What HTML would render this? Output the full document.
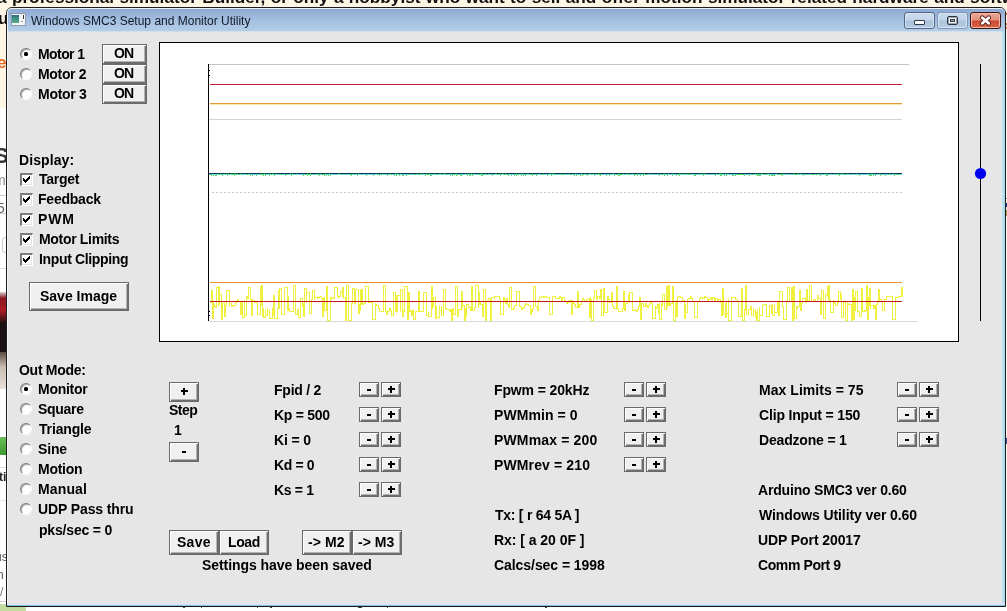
<!DOCTYPE html>
<html><head><meta charset="utf-8"><title>Windows SMC3 Setup and Monitor Utility</title><style>
*{margin:0;padding:0;box-sizing:border-box}
html,body{width:1007px;height:611px;overflow:hidden}
body{position:relative;background:#fdf6e4;font-family:"Liberation Sans",sans-serif;-webkit-font-smoothing:antialiased}
body>div{position:absolute}
.t{font:bold 14px/14px "Liberation Sans",sans-serif;color:#000;white-space:pre;will-change:transform}
.btn{background:#f0f0f0;border:1px solid #6a6a6a;box-shadow:inset 1px 1px 0 #fff,inset -1px -1px 0 #6e6e6e,inset -2px -2px 0 #b4b4b4}
.rad{width:12px;height:12px;border-radius:50%;background:#fdfdfd;border:1px solid;border-color:#7e7e7e #fafafa #fafafa #7e7e7e;box-shadow:inset 1px 1px 0 #a8a8a8}
.chk{width:13px;height:13px;background:#fff;border-style:solid;border-width:2px 1px 1px 2px;border-color:#7c7c7c #fff #fff #7c7c7c;box-shadow:inset -1px -1px 0 #e3e3e3}
</style></head><body>
<div style="left:-3.5px;top:-10.8px;font:bold 17.2px/17.2px 'Liberation Sans',sans-serif;color:#111;white-space:pre;word-spacing:0.6px;will-change:transform">a professional simulator Builder, or only a hobbyist who want to sell and offer motion simulator related hardware and software</div>
<div style="left:0px;top:108px;width:6px;height:500px;background:#fff"></div>
<div style="left:-2.5px;top:10px;font:bold 17px/17px 'Liberation Sans',sans-serif;color:#111;will-change:transform">u</div>
<div style="left:-3px;top:54px;font:bold 17px/17px 'Liberation Sans',sans-serif;color:#e8641e;will-change:transform">e</div>
<div style="left:-6px;top:145px;font:bold 22px/22px 'Liberation Sans',sans-serif;color:#333;will-change:transform">S</div>
<div style="left:-6px;top:173px;font:14px/14px 'Liberation Sans',sans-serif;color:#888;will-change:transform">m</div>
<div style="left:0px;top:195px;width:6px;height:1px;background:#ccc"></div>
<div style="left:-3px;top:201px;font:14px/14px 'Liberation Sans',sans-serif;color:#666;will-change:transform">5</div>
<div style="left:0px;top:213px;width:6px;height:1px;background:#ccc"></div>
<div style="left:2px;top:237px;width:6px;height:16px;border:1px solid #ccc;border-radius:3px"></div>
<div style="left:0px;top:268px;width:6px;height:1px;background:#ddd"></div>
<div style="left:0px;top:292px;width:6px;height:30px;background:linear-gradient(#d8d8d8,#8a1a20 20%,#b01c24 60%,#301010)"></div>
<div style="left:0px;top:322px;width:6px;height:30px;background:#1a1212"></div>
<div style="left:0px;top:352px;width:6px;height:37px;background:linear-gradient(#5a4a40,#c8bcb0 40%,#e8e2da)"></div>
<div style="left:0px;top:437px;width:6px;height:18px;background:linear-gradient(#6cc05a,#3a9a30)"></div>
<div style="left:0px;top:467px;width:6px;height:1px;background:#ddd"></div>
<div style="left:-1px;top:471px;font:bold 12px/12px 'Liberation Sans',sans-serif;color:#222;will-change:transform">ti</div>
<div style="left:0px;top:500px;width:6px;height:1px;background:#e4e4e4"></div>
<div style="left:-5px;top:551px;font:12px/12px 'Liberation Sans',sans-serif;color:#555;will-change:transform">us</div>
<div style="left:-3px;top:569px;font:12px/12px 'Liberation Sans',sans-serif;color:#555;will-change:transform">n</div>
<div style="left:0px;top:586px;font:12px/12px 'Liberation Sans',sans-serif;color:#777;will-change:transform">/</div>
<div style="left:0px;top:606px;width:1007px;height:5px;background:#fff"></div>
<div style="left:0px;top:604px;width:6px;height:2px;background:#c2dca0"></div>
<div style="left:0px;top:606px;width:26px;height:5px;background:#c2dca0"></div>
<div style="left:0px;top:601px;width:6px;height:1px;background:#d8d8d8"></div>
<div style="left:1006px;top:13px;width:1px;height:2px;background:#dc7a40"></div>
<div style="left:1006px;top:23px;width:1px;height:2px;background:#dc7a40"></div>
<div style="left:1006px;top:27px;width:1px;height:2px;background:#dc7a40"></div>
<div style="left:1006px;top:438px;width:1px;height:6px;background:#3a4a8a"></div>
<div style="left:1006px;top:198px;width:1px;height:1px;background:#999"></div>
<div style="left:1006px;top:203px;width:1px;height:4px;background:#2a3a8a"></div>
<div style="left:1006px;top:210px;width:1px;height:6px;background:#b09040"></div>
<div style="left:183px;top:607px;width:2px;height:1px;background:#444"></div>
<div style="left:201px;top:607px;width:1px;height:1px;background:#444"></div>
<div style="left:257px;top:607px;width:1px;height:1px;background:#444"></div>
<div style="left:270px;top:607px;width:2px;height:1px;background:#444"></div>
<div style="left:358px;top:607px;width:4px;height:1px;background:#444"></div>
<div style="left:387px;top:607px;width:1px;height:1px;background:#444"></div>
<div style="left:545px;top:607px;width:2px;height:1px;background:#444"></div>
<div style="left:6px;top:7px;width:1000px;height:600px;border:1px solid #1c1c1c;border-radius:6px 6px 0 0;background:#b3d3e8"></div>
<div style="left:7px;top:8px;width:998px;height:24px;border-radius:5px 5px 0 0;border-top:1px solid #eef2f8;border-left:1px solid #eef2f8;background:linear-gradient(#8ea9d1,#a3bddf 45%,#b4cfe7)"></div>
<div style="left:8px;top:31px;width:994px;height:1px;background:#d5deeb"></div>
<div style="left:7px;top:31px;width:1px;height:575px;background:#f4f6fa"></div>
<div style="left:1002px;top:31px;width:3px;height:575px;background:linear-gradient(90deg,#c8e6f2,#a6d6ea)"></div>
<div style="left:7px;top:603px;width:998px;height:2px;background:#dfe3f4"></div>
<div style="left:7px;top:605px;width:998px;height:1px;background:#7cc2da"></div>
<div style="left:8px;top:32px;width:994px;height:571px;background:#e6e6e6"></div>
<div style="left:11px;top:13px;width:15px;height:13px;background:#f6f6f6;border:1px solid #8a9ab0"></div>
<div style="left:12px;top:15px;width:7px;height:8px;background:linear-gradient(#2f6f86,#3f957a 50%,#5aa890)"></div>
<div style="left:21px;top:21px;width:2px;height:1px;background:#999"></div>
<div style="left:23px;top:15px;width:1px;height:4px;background:#333"></div>
<div style="left:31px;top:15px;font:12px/12px 'Liberation Sans',sans-serif;color:#101a28;white-space:pre;will-change:transform">Windows SMC3 Setup and Monitor Utility</div>
<div style="left:904px;top:12px;width:31px;height:17px;border:1px solid #4f6684;border-radius:3px;box-shadow:inset 0 0 0 1px #d8e4f2;background:linear-gradient(#cfdcee 0%,#c3d4ea 48%,#a9c0da 52%,#b5cbe3 100%)"></div>
<div style="left:914px;top:20px;width:11px;height:5px;border:1px solid #2e3a4a;border-radius:1px;background:#fbfbfb"></div>
<div style="left:937px;top:12px;width:31px;height:17px;border:1px solid #7c96b6;border-radius:3px;box-shadow:inset 0 0 0 1px #d8e4f2;background:linear-gradient(#c9d9ec 0%,#c0d2e8 48%,#abc3dc 52%,#b7cde4 100%)"></div>
<div style="left:947px;top:16px;width:11px;height:9px;border:1px solid #2a3440;border-radius:2px;box-shadow:inset 0 0 0 1px #9aa4b0;background:#f6f6f6"></div>
<div style="left:950px;top:19px;width:5px;height:3px;border:1px solid #323c48;background:#aab"></div>
<div style="left:970px;top:12px;width:31px;height:17px;border:1px solid #3c1410;border-radius:3px;box-shadow:inset 0 0 0 1px #f2b8a8;background:linear-gradient(#eaa896 0%,#e2907c 48%,#cc4a30 52%,#d66446 100%)"></div>
<svg style="position:absolute;left:979px;top:15px" width="13" height="11" viewBox="0 0 13 11"><path d="M3.3 2.7 L9.7 8.3 M9.7 2.7 L3.3 8.3" stroke="#5a2018" stroke-width="4.6" stroke-linecap="round"/><path d="M3.3 2.7 L9.7 8.3 M9.7 2.7 L3.3 8.3" stroke="#fff" stroke-width="2.8" stroke-linecap="round"/></svg>
<svg style="position:absolute;left:0;top:0" width="1007" height="611" shape-rendering="crispEdges">
<rect x="159.5" y="42.5" width="799" height="299" fill="#fff" stroke="#000" stroke-width="1"/>
<rect x="980" y="64" width="1" height="257" fill="#000"/>
<circle cx="980.5" cy="173.5" r="5.6" fill="#0000f0" shape-rendering="auto"/>
<rect x="209" y="64" width="700" height="1" fill="#c4c4c4"/>
<rect x="209" y="119" width="693" height="1" fill="#d4d4d4"/>
<rect x="209" y="321" width="709" height="1" fill="#d8d8d8"/>
<rect x="212" y="192" width="2" height="1" fill="#c8c8c8"/>
<rect x="216" y="192" width="2" height="1" fill="#c8c8c8"/>
<rect x="220" y="192" width="2" height="1" fill="#c8c8c8"/>
<rect x="224" y="192" width="2" height="1" fill="#c8c8c8"/>
<rect x="228" y="192" width="2" height="1" fill="#c8c8c8"/>
<rect x="232" y="192" width="2" height="1" fill="#c8c8c8"/>
<rect x="236" y="192" width="2" height="1" fill="#c8c8c8"/>
<rect x="240" y="192" width="2" height="1" fill="#c8c8c8"/>
<rect x="244" y="192" width="2" height="1" fill="#c8c8c8"/>
<rect x="248" y="192" width="2" height="1" fill="#c8c8c8"/>
<rect x="252" y="192" width="2" height="1" fill="#c8c8c8"/>
<rect x="256" y="192" width="2" height="1" fill="#c8c8c8"/>
<rect x="260" y="192" width="2" height="1" fill="#c8c8c8"/>
<rect x="264" y="192" width="2" height="1" fill="#c8c8c8"/>
<rect x="268" y="192" width="2" height="1" fill="#c8c8c8"/>
<rect x="272" y="192" width="2" height="1" fill="#c8c8c8"/>
<rect x="276" y="192" width="2" height="1" fill="#c8c8c8"/>
<rect x="280" y="192" width="2" height="1" fill="#c8c8c8"/>
<rect x="284" y="192" width="2" height="1" fill="#c8c8c8"/>
<rect x="288" y="192" width="2" height="1" fill="#c8c8c8"/>
<rect x="292" y="192" width="2" height="1" fill="#c8c8c8"/>
<rect x="296" y="192" width="2" height="1" fill="#c8c8c8"/>
<rect x="300" y="192" width="2" height="1" fill="#c8c8c8"/>
<rect x="304" y="192" width="2" height="1" fill="#c8c8c8"/>
<rect x="308" y="192" width="2" height="1" fill="#c8c8c8"/>
<rect x="312" y="192" width="2" height="1" fill="#c8c8c8"/>
<rect x="316" y="192" width="2" height="1" fill="#c8c8c8"/>
<rect x="320" y="192" width="2" height="1" fill="#c8c8c8"/>
<rect x="324" y="192" width="2" height="1" fill="#c8c8c8"/>
<rect x="328" y="192" width="2" height="1" fill="#c8c8c8"/>
<rect x="332" y="192" width="2" height="1" fill="#c8c8c8"/>
<rect x="336" y="192" width="2" height="1" fill="#c8c8c8"/>
<rect x="340" y="192" width="2" height="1" fill="#c8c8c8"/>
<rect x="344" y="192" width="2" height="1" fill="#c8c8c8"/>
<rect x="348" y="192" width="2" height="1" fill="#c8c8c8"/>
<rect x="352" y="192" width="2" height="1" fill="#c8c8c8"/>
<rect x="356" y="192" width="2" height="1" fill="#c8c8c8"/>
<rect x="360" y="192" width="2" height="1" fill="#c8c8c8"/>
<rect x="364" y="192" width="2" height="1" fill="#c8c8c8"/>
<rect x="368" y="192" width="2" height="1" fill="#c8c8c8"/>
<rect x="372" y="192" width="2" height="1" fill="#c8c8c8"/>
<rect x="376" y="192" width="2" height="1" fill="#c8c8c8"/>
<rect x="380" y="192" width="2" height="1" fill="#c8c8c8"/>
<rect x="384" y="192" width="2" height="1" fill="#c8c8c8"/>
<rect x="388" y="192" width="2" height="1" fill="#c8c8c8"/>
<rect x="392" y="192" width="2" height="1" fill="#c8c8c8"/>
<rect x="396" y="192" width="2" height="1" fill="#c8c8c8"/>
<rect x="400" y="192" width="2" height="1" fill="#c8c8c8"/>
<rect x="404" y="192" width="2" height="1" fill="#c8c8c8"/>
<rect x="408" y="192" width="2" height="1" fill="#c8c8c8"/>
<rect x="412" y="192" width="2" height="1" fill="#c8c8c8"/>
<rect x="416" y="192" width="2" height="1" fill="#c8c8c8"/>
<rect x="420" y="192" width="2" height="1" fill="#c8c8c8"/>
<rect x="424" y="192" width="2" height="1" fill="#c8c8c8"/>
<rect x="428" y="192" width="2" height="1" fill="#c8c8c8"/>
<rect x="432" y="192" width="2" height="1" fill="#c8c8c8"/>
<rect x="436" y="192" width="2" height="1" fill="#c8c8c8"/>
<rect x="440" y="192" width="2" height="1" fill="#c8c8c8"/>
<rect x="444" y="192" width="2" height="1" fill="#c8c8c8"/>
<rect x="448" y="192" width="2" height="1" fill="#c8c8c8"/>
<rect x="452" y="192" width="2" height="1" fill="#c8c8c8"/>
<rect x="456" y="192" width="2" height="1" fill="#c8c8c8"/>
<rect x="460" y="192" width="2" height="1" fill="#c8c8c8"/>
<rect x="464" y="192" width="2" height="1" fill="#c8c8c8"/>
<rect x="468" y="192" width="2" height="1" fill="#c8c8c8"/>
<rect x="472" y="192" width="2" height="1" fill="#c8c8c8"/>
<rect x="476" y="192" width="2" height="1" fill="#c8c8c8"/>
<rect x="480" y="192" width="2" height="1" fill="#c8c8c8"/>
<rect x="484" y="192" width="2" height="1" fill="#c8c8c8"/>
<rect x="488" y="192" width="2" height="1" fill="#c8c8c8"/>
<rect x="492" y="192" width="2" height="1" fill="#c8c8c8"/>
<rect x="496" y="192" width="2" height="1" fill="#c8c8c8"/>
<rect x="500" y="192" width="2" height="1" fill="#c8c8c8"/>
<rect x="504" y="192" width="2" height="1" fill="#c8c8c8"/>
<rect x="508" y="192" width="2" height="1" fill="#c8c8c8"/>
<rect x="512" y="192" width="2" height="1" fill="#c8c8c8"/>
<rect x="516" y="192" width="2" height="1" fill="#c8c8c8"/>
<rect x="520" y="192" width="2" height="1" fill="#c8c8c8"/>
<rect x="524" y="192" width="2" height="1" fill="#c8c8c8"/>
<rect x="528" y="192" width="2" height="1" fill="#c8c8c8"/>
<rect x="532" y="192" width="2" height="1" fill="#c8c8c8"/>
<rect x="536" y="192" width="2" height="1" fill="#c8c8c8"/>
<rect x="540" y="192" width="2" height="1" fill="#c8c8c8"/>
<rect x="544" y="192" width="2" height="1" fill="#c8c8c8"/>
<rect x="548" y="192" width="2" height="1" fill="#c8c8c8"/>
<rect x="552" y="192" width="2" height="1" fill="#c8c8c8"/>
<rect x="556" y="192" width="2" height="1" fill="#c8c8c8"/>
<rect x="560" y="192" width="2" height="1" fill="#c8c8c8"/>
<rect x="564" y="192" width="2" height="1" fill="#c8c8c8"/>
<rect x="568" y="192" width="2" height="1" fill="#c8c8c8"/>
<rect x="572" y="192" width="2" height="1" fill="#c8c8c8"/>
<rect x="576" y="192" width="2" height="1" fill="#c8c8c8"/>
<rect x="580" y="192" width="2" height="1" fill="#c8c8c8"/>
<rect x="584" y="192" width="2" height="1" fill="#c8c8c8"/>
<rect x="588" y="192" width="2" height="1" fill="#c8c8c8"/>
<rect x="592" y="192" width="2" height="1" fill="#c8c8c8"/>
<rect x="596" y="192" width="2" height="1" fill="#c8c8c8"/>
<rect x="600" y="192" width="2" height="1" fill="#c8c8c8"/>
<rect x="604" y="192" width="2" height="1" fill="#c8c8c8"/>
<rect x="608" y="192" width="2" height="1" fill="#c8c8c8"/>
<rect x="612" y="192" width="2" height="1" fill="#c8c8c8"/>
<rect x="616" y="192" width="2" height="1" fill="#c8c8c8"/>
<rect x="620" y="192" width="2" height="1" fill="#c8c8c8"/>
<rect x="624" y="192" width="2" height="1" fill="#c8c8c8"/>
<rect x="628" y="192" width="2" height="1" fill="#c8c8c8"/>
<rect x="632" y="192" width="2" height="1" fill="#c8c8c8"/>
<rect x="636" y="192" width="2" height="1" fill="#c8c8c8"/>
<rect x="640" y="192" width="2" height="1" fill="#c8c8c8"/>
<rect x="644" y="192" width="2" height="1" fill="#c8c8c8"/>
<rect x="648" y="192" width="2" height="1" fill="#c8c8c8"/>
<rect x="652" y="192" width="2" height="1" fill="#c8c8c8"/>
<rect x="656" y="192" width="2" height="1" fill="#c8c8c8"/>
<rect x="660" y="192" width="2" height="1" fill="#c8c8c8"/>
<rect x="664" y="192" width="2" height="1" fill="#c8c8c8"/>
<rect x="668" y="192" width="2" height="1" fill="#c8c8c8"/>
<rect x="672" y="192" width="2" height="1" fill="#c8c8c8"/>
<rect x="676" y="192" width="2" height="1" fill="#c8c8c8"/>
<rect x="680" y="192" width="2" height="1" fill="#c8c8c8"/>
<rect x="684" y="192" width="2" height="1" fill="#c8c8c8"/>
<rect x="688" y="192" width="2" height="1" fill="#c8c8c8"/>
<rect x="692" y="192" width="2" height="1" fill="#c8c8c8"/>
<rect x="696" y="192" width="2" height="1" fill="#c8c8c8"/>
<rect x="700" y="192" width="2" height="1" fill="#c8c8c8"/>
<rect x="704" y="192" width="2" height="1" fill="#c8c8c8"/>
<rect x="708" y="192" width="2" height="1" fill="#c8c8c8"/>
<rect x="712" y="192" width="2" height="1" fill="#c8c8c8"/>
<rect x="716" y="192" width="2" height="1" fill="#c8c8c8"/>
<rect x="720" y="192" width="2" height="1" fill="#c8c8c8"/>
<rect x="724" y="192" width="2" height="1" fill="#c8c8c8"/>
<rect x="728" y="192" width="2" height="1" fill="#c8c8c8"/>
<rect x="732" y="192" width="2" height="1" fill="#c8c8c8"/>
<rect x="736" y="192" width="2" height="1" fill="#c8c8c8"/>
<rect x="740" y="192" width="2" height="1" fill="#c8c8c8"/>
<rect x="744" y="192" width="2" height="1" fill="#c8c8c8"/>
<rect x="748" y="192" width="2" height="1" fill="#c8c8c8"/>
<rect x="752" y="192" width="2" height="1" fill="#c8c8c8"/>
<rect x="756" y="192" width="2" height="1" fill="#c8c8c8"/>
<rect x="760" y="192" width="2" height="1" fill="#c8c8c8"/>
<rect x="764" y="192" width="2" height="1" fill="#c8c8c8"/>
<rect x="768" y="192" width="2" height="1" fill="#c8c8c8"/>
<rect x="772" y="192" width="2" height="1" fill="#c8c8c8"/>
<rect x="776" y="192" width="2" height="1" fill="#c8c8c8"/>
<rect x="780" y="192" width="2" height="1" fill="#c8c8c8"/>
<rect x="784" y="192" width="2" height="1" fill="#c8c8c8"/>
<rect x="788" y="192" width="2" height="1" fill="#c8c8c8"/>
<rect x="792" y="192" width="2" height="1" fill="#c8c8c8"/>
<rect x="796" y="192" width="2" height="1" fill="#c8c8c8"/>
<rect x="800" y="192" width="2" height="1" fill="#c8c8c8"/>
<rect x="804" y="192" width="2" height="1" fill="#c8c8c8"/>
<rect x="808" y="192" width="2" height="1" fill="#c8c8c8"/>
<rect x="812" y="192" width="2" height="1" fill="#c8c8c8"/>
<rect x="816" y="192" width="2" height="1" fill="#c8c8c8"/>
<rect x="820" y="192" width="2" height="1" fill="#c8c8c8"/>
<rect x="824" y="192" width="2" height="1" fill="#c8c8c8"/>
<rect x="828" y="192" width="2" height="1" fill="#c8c8c8"/>
<rect x="832" y="192" width="2" height="1" fill="#c8c8c8"/>
<rect x="836" y="192" width="2" height="1" fill="#c8c8c8"/>
<rect x="840" y="192" width="2" height="1" fill="#c8c8c8"/>
<rect x="844" y="192" width="2" height="1" fill="#c8c8c8"/>
<rect x="848" y="192" width="2" height="1" fill="#c8c8c8"/>
<rect x="852" y="192" width="2" height="1" fill="#c8c8c8"/>
<rect x="856" y="192" width="2" height="1" fill="#c8c8c8"/>
<rect x="860" y="192" width="2" height="1" fill="#c8c8c8"/>
<rect x="864" y="192" width="2" height="1" fill="#c8c8c8"/>
<rect x="868" y="192" width="2" height="1" fill="#c8c8c8"/>
<rect x="872" y="192" width="2" height="1" fill="#c8c8c8"/>
<rect x="876" y="192" width="2" height="1" fill="#c8c8c8"/>
<rect x="880" y="192" width="2" height="1" fill="#c8c8c8"/>
<rect x="884" y="192" width="2" height="1" fill="#c8c8c8"/>
<rect x="888" y="192" width="2" height="1" fill="#c8c8c8"/>
<rect x="892" y="192" width="2" height="1" fill="#c8c8c8"/>
<rect x="896" y="192" width="2" height="1" fill="#c8c8c8"/>
<rect x="900" y="192" width="2" height="1" fill="#c8c8c8"/>
<rect x="210" y="84" width="692" height="1" fill="#c8202c"/>
<rect x="210" y="103" width="692" height="1" fill="#e49a3c"/>
<rect x="210" y="104" width="692" height="1" fill="#fbe7b0"/>
<path d="M210 303V302.5H211V290.5H212V304.5V318.5H213V301.5V304.5H214V306.5H215V307.5H216V287.5H218V305.5V286.5H219V304.5V294.5H221V301.5V319.5H222V303.5V301.5H224V316.5H225V304.5V305.5H226V290.5H229V306.5V303.5H231V306.5H232V305.5H234V305.5H235V302.5H236V302.5H237V299.5H238V301.5H240V314.5H241V304.5V302.5H242V317.5H244V299.5V315.5H246V296.5V296.5H247V298.5H248V287.5H250V296.5V299.5H251V315.5H252V298.5V300.5H254V302.5H255V302.5H257V314.5H260V305.5V286.5H261V305.5V285.5H262V306.5V316.5H263V307.5V317.5H265V308.5V315.5H267V307.5V310.5H269V318.5H272V307.5V315.5H273V310.5V295.5H274V311.5V318.5H277V311.5V308.5H278V290.5H279V308.5V288.5H281V305.5V314.5H284V307.5V287.5H287V310.5V296.5H288V310.5V308.5H289V311.5H291V311.5H292V311.5H293V285.5H295V311.5V314.5H297V311.5V309.5H298V317.5H300V308.5V298.5H302V306.5V303.5H303V316.5H304V301.5V288.5H306V302.5V292.5H309V302.5V313.5H311V301.5V299.5H312V290.5H314V299.5V297.5H317V296.5V298.5H318V297.5H319V296.5H320V296.5H321V298.5H322V316.5H323V300.5V297.5H324V310.5H326V296.5V286.5H327V297.5V320.5H330V296.5V299.5H331V297.5H333V298.5H334V287.5H337V296.5V296.5H338V297.5H339V296.5H340V291.5H342V296.5V287.5H343V298.5V297.5H345V320.5H346V300.5V285.5H348V303.5V320.5H351V303.5V303.5H352V288.5H354V304.5V303.5H355V289.5H358V300.5V313.5H359V303.5V310.5H360V303.5V289.5H361V304.5V289.5H362V303.5V304.5H363V303.5H364V303.5H365V286.5H368V300.5V302.5H370V302.5H372V319.5H375V302.5V304.5H376V305.5H378V308.5H379V311.5H381V311.5H383V285.5H385V309.5V311.5H386V314.5H387V311.5V311.5H389V308.5H390V310.5H391V315.5H393V311.5V292.5H395V311.5V311.5H396V295.5H397V311.5V295.5H400V311.5V289.5H402V311.5V316.5H403V309.5V311.5H404V286.5H407V310.5V319.5H408V311.5V292.5H409V311.5V311.5H410V310.5H411V315.5H412V309.5V310.5H413V311.5V319.5H415V310.5V311.5H418V311.5V291.5H419V309.5V311.5H420V311.5H421V311.5H423V292.5H426V308.5V315.5H428V311.5V316.5H431V310.5V286.5H432V308.5V306.5H433V297.5H435V307.5V318.5H436V305.5V317.5H439V304.5V310.5H441V305.5V315.5H443V304.5V289.5H445V306.5V308.5H446V309.5H447V309.5H449V311.5H450V309.5H451V320.5H452V307.5V308.5H453V314.5H455V311.5V286.5H457V311.5V316.5H458V310.5V309.5H459V309.5H461V291.5H462V307.5V305.5H464V320.5H465V307.5V316.5H466V307.5V304.5H468V307.5H469V307.5H470V310.5H471V286.5H472V310.5V310.5H474V307.5H475V285.5H478V307.5V292.5H479V304.5V302.5H480V304.5H482V316.5H483V304.5V289.5H485V301.5V320.5H486V304.5V301.5H487V300.5H488V298.5H490V320.5H491V298.5V297.5H494V298.5V296.5H495V296.5H497V296.5H499V298.5H500V314.5H503V297.5V297.5H504V300.5H505V303.5H506V298.5H507V301.5V304.5H508V307.5H509V287.5H511V308.5V309.5H512V309.5H513V308.5H514V305.5H516V291.5H519V305.5V306.5H521V309.5H522V308.5H523V307.5H524V305.5H525V303.5H526V304.5H527V304.5H528V305.5H530V314.5H531V308.5V311.5H532V308.5H533V286.5H535V305.5V306.5H537V310.5H538V303.5V300.5H539V297.5H541V296.5H542V296.5H543V297.5H544V296.5H546V297.5H549V296.5V314.5H552V297.5V296.5H553V296.5H554V296.5H555V298.5H557V298.5H558V298.5H559V296.5H560V297.5H561V300.5H562V297.5H564V300.5H565V301.5H566V303.5H567V302.5H569V300.5H570V300.5H571V314.5H572V299.5V301.5H573V303.5H574V304.5H575V307.5H577V291.5H578V305.5V307.5H579V304.5H581V301.5H582V298.5H583V299.5H584V301.5H586V299.5H588V298.5H589V317.5H590V296.5V299.5H591V320.5H593V296.5V297.5H594V290.5H596V299.5V299.5H597V296.5H599V298.5H600V289.5H601V296.5V315.5H603V299.5V288.5H604V297.5V312.5H607V296.5V296.5H608V299.5H609V302.5H611V292.5H612V305.5V306.5H613V308.5H614V308.5H616V286.5H617V306.5V309.5H618V311.5H620V311.5H622V308.5H623V291.5H624V306.5V310.5H625V306.5V303.5H627V301.5H628V294.5H629V302.5V292.5H632V305.5V310.5H634V308.5V310.5H636V311.5H637V309.5H638V306.5H639V297.5H640V304.5V319.5H641V304.5V303.5H643V306.5H645V303.5H646V305.5H647V307.5H648V305.5H649V303.5H650V302.5H652V318.5H655V305.5V308.5H656V307.5H657V304.5H658V313.5H659V302.5V319.5H661V302.5V305.5H662V294.5H664V308.5V309.5H666V286.5H667V307.5V305.5H668V285.5H669V302.5V305.5H670V303.5H672V286.5H673V305.5V320.5H675V302.5V316.5H676V299.5V316.5H677V296.5V297.5H678V296.5H679V296.5H680V297.5H682V300.5H684V318.5H685V303.5V312.5H687V300.5V299.5H688V298.5H690V296.5H691V298.5H692V301.5H694V317.5H697V304.5V301.5H699V298.5H700V297.5H702V298.5H704V296.5H705V297.5H707V300.5H708V299.5H710V297.5H711V299.5H712V297.5H714V300.5H715V298.5H717V300.5H718V299.5H720V302.5H721V315.5H722V304.5V288.5H723V302.5V314.5H725V302.5V317.5H726V301.5V313.5H728V298.5V320.5H731V296.5V297.5H733V297.5H735V299.5H737V301.5H738V316.5H741V303.5V288.5H742V305.5V320.5H744V308.5V310.5H745V285.5H746V311.5V314.5H748V311.5V309.5H750V306.5H751V315.5H753V307.5V310.5H755V317.5H756V311.5V320.5H757V308.5V320.5H759V306.5V315.5H762V304.5V305.5H763V304.5H764V304.5H766V316.5H769V306.5V305.5H771V313.5H772V303.5V315.5H774V303.5V312.5H777V300.5V311.5H778V301.5V315.5H779V302.5V291.5H782V305.5V306.5H783V319.5H786V304.5V301.5H787V287.5H789V301.5V301.5H791V287.5H792V301.5V320.5H793V304.5V286.5H794V304.5V318.5H796V305.5V308.5H797V306.5H799V290.5H800V304.5V310.5H801V304.5V303.5H802V298.5H805V302.5V302.5H806V289.5H807V300.5V300.5H808V301.5H809V285.5H811V300.5V301.5H813V299.5H815V301.5H817V295.5H818V298.5V298.5H820V314.5H821V296.5V290.5H823V296.5V318.5H825V297.5V294.5H827V296.5V286.5H828V299.5V285.5H829V301.5V299.5H830V312.5H833V299.5V301.5H834V303.5H835V305.5H836V305.5H837V302.5H838V291.5H840V299.5V294.5H841V300.5V317.5H843V303.5V302.5H845V320.5H847V301.5V303.5H848V304.5H850V304.5H851V320.5H852V304.5V289.5H853V306.5V319.5H854V309.5V297.5H855V310.5V291.5H857V311.5V311.5H859V316.5H861V311.5V288.5H862V310.5V311.5H863V311.5H864V310.5H865V311.5V310.5H866V285.5H867V308.5V319.5H868V305.5V297.5H869V305.5V288.5H870V308.5V305.5H872V305.5H873V308.5H874V305.5H875V319.5H876V304.5V304.5H877V302.5H878V289.5H879V300.5V299.5H881V301.5H882V310.5H884V298.5V299.5H886V296.5H887V296.5H888V296.5H889V296.5H891V296.5H892V319.5H895V299.5V297.5H896V297.5H898V296.5H899V296.5H900V296.5H901V287.5H902V296.5" fill="none" stroke="#f0f040" stroke-width="1" shape-rendering="crispEdges" transform="translate(0.5,0)"/>
<rect x="210" y="282" width="692" height="1" fill="#e8902c"/>
<rect x="210" y="301" width="692" height="1" fill="#c8141c"/>
<rect x="209" y="173" width="693" height="1" fill="#10306a"/>
<rect x="209" y="174" width="693" height="1" fill="#6cdccc"/>
<rect x="210" y="174" width="1" height="1" fill="#38d838"/>
<rect x="211" y="175" width="1" height="1" fill="#5ad25a"/>
<rect x="213" y="175" width="1" height="1" fill="#5ad25a"/>
<rect x="215" y="175" width="1" height="1" fill="#5ad25a"/>
<rect x="216" y="175" width="1" height="1" fill="#5ad25a"/>
<rect x="218" y="173" width="1" height="1" fill="#1a7a3a"/>
<rect x="219" y="174" width="1" height="1" fill="#38d838"/>
<rect x="220" y="173" width="1" height="1" fill="#1a7a3a"/>
<rect x="222" y="175" width="1" height="1" fill="#5ad25a"/>
<rect x="224" y="173" width="1" height="1" fill="#1a7a3a"/>
<rect x="226" y="173" width="1" height="1" fill="#1a7a3a"/>
<rect x="227" y="175" width="1" height="1" fill="#5ad25a"/>
<rect x="228" y="173" width="1" height="1" fill="#1a7a3a"/>
<rect x="229" y="174" width="1" height="1" fill="#38d838"/>
<rect x="231" y="173" width="1" height="1" fill="#1a7a3a"/>
<rect x="232" y="173" width="1" height="1" fill="#1a7a3a"/>
<rect x="232" y="174" width="1" height="1" fill="#38d838"/>
<rect x="234" y="173" width="1" height="1" fill="#1a7a3a"/>
<rect x="234" y="175" width="1" height="1" fill="#5ad25a"/>
<rect x="235" y="173" width="1" height="1" fill="#1a7a3a"/>
<rect x="236" y="174" width="1" height="1" fill="#38d838"/>
<rect x="237" y="173" width="1" height="1" fill="#1a7a3a"/>
<rect x="239" y="174" width="1" height="1" fill="#38d838"/>
<rect x="240" y="173" width="1" height="1" fill="#1a7a3a"/>
<rect x="242" y="173" width="1" height="1" fill="#1a7a3a"/>
<rect x="245" y="173" width="1" height="1" fill="#1a7a3a"/>
<rect x="247" y="174" width="1" height="1" fill="#38d838"/>
<rect x="249" y="173" width="1" height="1" fill="#1a7a3a"/>
<rect x="250" y="175" width="1" height="1" fill="#5ad25a"/>
<rect x="252" y="175" width="1" height="1" fill="#5ad25a"/>
<rect x="256" y="175" width="1" height="1" fill="#5ad25a"/>
<rect x="260" y="173" width="1" height="1" fill="#1a7a3a"/>
<rect x="261" y="173" width="1" height="1" fill="#1a7a3a"/>
<rect x="261" y="174" width="1" height="1" fill="#38d838"/>
<rect x="262" y="173" width="1" height="1" fill="#1a7a3a"/>
<rect x="262" y="174" width="1" height="1" fill="#38d838"/>
<rect x="263" y="175" width="1" height="1" fill="#5ad25a"/>
<rect x="264" y="173" width="1" height="1" fill="#1a7a3a"/>
<rect x="265" y="173" width="1" height="1" fill="#1a7a3a"/>
<rect x="265" y="175" width="1" height="1" fill="#5ad25a"/>
<rect x="268" y="173" width="1" height="1" fill="#1a7a3a"/>
<rect x="269" y="175" width="1" height="1" fill="#5ad25a"/>
<rect x="270" y="173" width="1" height="1" fill="#1a7a3a"/>
<rect x="271" y="174" width="1" height="1" fill="#38d838"/>
<rect x="272" y="173" width="1" height="1" fill="#1a7a3a"/>
<rect x="273" y="173" width="1" height="1" fill="#1a7a3a"/>
<rect x="274" y="175" width="1" height="1" fill="#5ad25a"/>
<rect x="276" y="173" width="1" height="1" fill="#1a7a3a"/>
<rect x="281" y="174" width="1" height="1" fill="#38d838"/>
<rect x="285" y="175" width="1" height="1" fill="#5ad25a"/>
<rect x="287" y="174" width="1" height="1" fill="#38d838"/>
<rect x="290" y="173" width="1" height="1" fill="#1a7a3a"/>
<rect x="291" y="175" width="1" height="1" fill="#5ad25a"/>
<rect x="292" y="173" width="1" height="1" fill="#1a7a3a"/>
<rect x="296" y="173" width="1" height="1" fill="#1a7a3a"/>
<rect x="303" y="175" width="1" height="1" fill="#5ad25a"/>
<rect x="305" y="174" width="1" height="1" fill="#38d838"/>
<rect x="307" y="173" width="1" height="1" fill="#1a7a3a"/>
<rect x="307" y="175" width="1" height="1" fill="#5ad25a"/>
<rect x="308" y="173" width="1" height="1" fill="#1a7a3a"/>
<rect x="308" y="174" width="1" height="1" fill="#38d838"/>
<rect x="309" y="174" width="1" height="1" fill="#38d838"/>
<rect x="310" y="173" width="1" height="1" fill="#1a7a3a"/>
<rect x="310" y="175" width="1" height="1" fill="#5ad25a"/>
<rect x="313" y="174" width="1" height="1" fill="#38d838"/>
<rect x="317" y="173" width="1" height="1" fill="#1a7a3a"/>
<rect x="317" y="174" width="1" height="1" fill="#38d838"/>
<rect x="319" y="175" width="1" height="1" fill="#5ad25a"/>
<rect x="321" y="173" width="1" height="1" fill="#1a7a3a"/>
<rect x="322" y="174" width="1" height="1" fill="#38d838"/>
<rect x="323" y="174" width="1" height="1" fill="#38d838"/>
<rect x="324" y="175" width="1" height="1" fill="#5ad25a"/>
<rect x="325" y="173" width="1" height="1" fill="#1a7a3a"/>
<rect x="326" y="175" width="1" height="1" fill="#5ad25a"/>
<rect x="328" y="175" width="1" height="1" fill="#5ad25a"/>
<rect x="329" y="173" width="1" height="1" fill="#1a7a3a"/>
<rect x="330" y="175" width="1" height="1" fill="#5ad25a"/>
<rect x="338" y="173" width="1" height="1" fill="#1a7a3a"/>
<rect x="339" y="173" width="1" height="1" fill="#1a7a3a"/>
<rect x="350" y="174" width="1" height="1" fill="#38d838"/>
<rect x="351" y="175" width="1" height="1" fill="#5ad25a"/>
<rect x="353" y="173" width="1" height="1" fill="#1a7a3a"/>
<rect x="356" y="173" width="1" height="1" fill="#1a7a3a"/>
<rect x="357" y="175" width="1" height="1" fill="#5ad25a"/>
<rect x="358" y="173" width="1" height="1" fill="#1a7a3a"/>
<rect x="366" y="175" width="1" height="1" fill="#5ad25a"/>
<rect x="373" y="175" width="1" height="1" fill="#5ad25a"/>
<rect x="376" y="173" width="1" height="1" fill="#1a7a3a"/>
<rect x="379" y="175" width="1" height="1" fill="#5ad25a"/>
<rect x="381" y="174" width="1" height="1" fill="#38d838"/>
<rect x="382" y="173" width="1" height="1" fill="#1a7a3a"/>
<rect x="385" y="173" width="1" height="1" fill="#1a7a3a"/>
<rect x="387" y="175" width="1" height="1" fill="#5ad25a"/>
<rect x="390" y="173" width="1" height="1" fill="#1a7a3a"/>
<rect x="391" y="174" width="1" height="1" fill="#38d838"/>
<rect x="394" y="175" width="1" height="1" fill="#5ad25a"/>
<rect x="395" y="173" width="1" height="1" fill="#1a7a3a"/>
<rect x="396" y="173" width="1" height="1" fill="#1a7a3a"/>
<rect x="396" y="175" width="1" height="1" fill="#5ad25a"/>
<rect x="397" y="173" width="1" height="1" fill="#1a7a3a"/>
<rect x="399" y="175" width="1" height="1" fill="#5ad25a"/>
<rect x="400" y="173" width="1" height="1" fill="#1a7a3a"/>
<rect x="402" y="175" width="1" height="1" fill="#5ad25a"/>
<rect x="403" y="175" width="1" height="1" fill="#5ad25a"/>
<rect x="406" y="175" width="1" height="1" fill="#5ad25a"/>
<rect x="409" y="174" width="1" height="1" fill="#38d838"/>
<rect x="410" y="173" width="1" height="1" fill="#1a7a3a"/>
<rect x="415" y="174" width="1" height="1" fill="#38d838"/>
<rect x="417" y="173" width="1" height="1" fill="#1a7a3a"/>
<rect x="419" y="174" width="1" height="1" fill="#38d838"/>
<rect x="420" y="173" width="1" height="1" fill="#1a7a3a"/>
<rect x="421" y="173" width="1" height="1" fill="#1a7a3a"/>
<rect x="423" y="173" width="1" height="1" fill="#1a7a3a"/>
<rect x="425" y="173" width="1" height="1" fill="#1a7a3a"/>
<rect x="425" y="175" width="1" height="1" fill="#5ad25a"/>
<rect x="427" y="173" width="1" height="1" fill="#1a7a3a"/>
<rect x="427" y="174" width="1" height="1" fill="#38d838"/>
<rect x="428" y="174" width="1" height="1" fill="#38d838"/>
<rect x="429" y="173" width="1" height="1" fill="#1a7a3a"/>
<rect x="430" y="175" width="1" height="1" fill="#5ad25a"/>
<rect x="431" y="175" width="1" height="1" fill="#5ad25a"/>
<rect x="433" y="173" width="1" height="1" fill="#1a7a3a"/>
<rect x="435" y="173" width="1" height="1" fill="#1a7a3a"/>
<rect x="437" y="174" width="1" height="1" fill="#38d838"/>
<rect x="439" y="173" width="1" height="1" fill="#1a7a3a"/>
<rect x="440" y="173" width="1" height="1" fill="#1a7a3a"/>
<rect x="443" y="173" width="1" height="1" fill="#1a7a3a"/>
<rect x="444" y="173" width="1" height="1" fill="#1a7a3a"/>
<rect x="445" y="173" width="1" height="1" fill="#1a7a3a"/>
<rect x="446" y="174" width="1" height="1" fill="#38d838"/>
<rect x="450" y="173" width="1" height="1" fill="#1a7a3a"/>
<rect x="450" y="175" width="1" height="1" fill="#5ad25a"/>
<rect x="452" y="175" width="1" height="1" fill="#5ad25a"/>
<rect x="454" y="174" width="1" height="1" fill="#38d838"/>
<rect x="455" y="173" width="1" height="1" fill="#1a7a3a"/>
<rect x="456" y="173" width="1" height="1" fill="#1a7a3a"/>
<rect x="456" y="175" width="1" height="1" fill="#5ad25a"/>
<rect x="457" y="174" width="1" height="1" fill="#38d838"/>
<rect x="460" y="175" width="1" height="1" fill="#5ad25a"/>
<rect x="461" y="175" width="1" height="1" fill="#5ad25a"/>
<rect x="465" y="173" width="1" height="1" fill="#1a7a3a"/>
<rect x="467" y="173" width="1" height="1" fill="#1a7a3a"/>
<rect x="467" y="175" width="1" height="1" fill="#5ad25a"/>
<rect x="469" y="175" width="1" height="1" fill="#5ad25a"/>
<rect x="470" y="173" width="1" height="1" fill="#1a7a3a"/>
<rect x="470" y="175" width="1" height="1" fill="#5ad25a"/>
<rect x="471" y="173" width="1" height="1" fill="#1a7a3a"/>
<rect x="472" y="175" width="1" height="1" fill="#5ad25a"/>
<rect x="474" y="173" width="1" height="1" fill="#1a7a3a"/>
<rect x="478" y="173" width="1" height="1" fill="#1a7a3a"/>
<rect x="479" y="174" width="1" height="1" fill="#38d838"/>
<rect x="480" y="173" width="1" height="1" fill="#1a7a3a"/>
<rect x="481" y="175" width="1" height="1" fill="#5ad25a"/>
<rect x="482" y="173" width="1" height="1" fill="#1a7a3a"/>
<rect x="482" y="175" width="1" height="1" fill="#5ad25a"/>
<rect x="483" y="174" width="1" height="1" fill="#38d838"/>
<rect x="485" y="173" width="1" height="1" fill="#1a7a3a"/>
<rect x="487" y="174" width="1" height="1" fill="#38d838"/>
<rect x="488" y="173" width="1" height="1" fill="#1a7a3a"/>
<rect x="492" y="175" width="1" height="1" fill="#5ad25a"/>
<rect x="495" y="173" width="1" height="1" fill="#1a7a3a"/>
<rect x="496" y="173" width="1" height="1" fill="#1a7a3a"/>
<rect x="497" y="174" width="1" height="1" fill="#38d838"/>
<rect x="500" y="173" width="1" height="1" fill="#1a7a3a"/>
<rect x="500" y="175" width="1" height="1" fill="#5ad25a"/>
<rect x="502" y="173" width="1" height="1" fill="#1a7a3a"/>
<rect x="503" y="173" width="1" height="1" fill="#1a7a3a"/>
<rect x="504" y="174" width="1" height="1" fill="#38d838"/>
<rect x="505" y="173" width="1" height="1" fill="#1a7a3a"/>
<rect x="507" y="174" width="1" height="1" fill="#38d838"/>
<rect x="508" y="175" width="1" height="1" fill="#5ad25a"/>
<rect x="511" y="175" width="1" height="1" fill="#5ad25a"/>
<rect x="514" y="175" width="1" height="1" fill="#5ad25a"/>
<rect x="516" y="173" width="1" height="1" fill="#1a7a3a"/>
<rect x="516" y="175" width="1" height="1" fill="#5ad25a"/>
<rect x="517" y="174" width="1" height="1" fill="#38d838"/>
<rect x="519" y="173" width="1" height="1" fill="#1a7a3a"/>
<rect x="521" y="173" width="1" height="1" fill="#1a7a3a"/>
<rect x="521" y="175" width="1" height="1" fill="#5ad25a"/>
<rect x="522" y="173" width="1" height="1" fill="#1a7a3a"/>
<rect x="523" y="175" width="1" height="1" fill="#5ad25a"/>
<rect x="525" y="175" width="1" height="1" fill="#5ad25a"/>
<rect x="527" y="173" width="1" height="1" fill="#1a7a3a"/>
<rect x="528" y="173" width="1" height="1" fill="#1a7a3a"/>
<rect x="531" y="174" width="1" height="1" fill="#38d838"/>
<rect x="532" y="173" width="1" height="1" fill="#1a7a3a"/>
<rect x="532" y="175" width="1" height="1" fill="#5ad25a"/>
<rect x="534" y="174" width="1" height="1" fill="#38d838"/>
<rect x="536" y="175" width="1" height="1" fill="#5ad25a"/>
<rect x="539" y="173" width="1" height="1" fill="#1a7a3a"/>
<rect x="542" y="174" width="1" height="1" fill="#38d838"/>
<rect x="543" y="173" width="1" height="1" fill="#1a7a3a"/>
<rect x="547" y="175" width="1" height="1" fill="#5ad25a"/>
<rect x="549" y="173" width="1" height="1" fill="#1a7a3a"/>
<rect x="550" y="173" width="1" height="1" fill="#1a7a3a"/>
<rect x="551" y="175" width="1" height="1" fill="#5ad25a"/>
<rect x="552" y="173" width="1" height="1" fill="#1a7a3a"/>
<rect x="553" y="173" width="1" height="1" fill="#1a7a3a"/>
<rect x="554" y="173" width="1" height="1" fill="#1a7a3a"/>
<rect x="556" y="174" width="1" height="1" fill="#38d838"/>
<rect x="561" y="173" width="1" height="1" fill="#1a7a3a"/>
<rect x="561" y="174" width="1" height="1" fill="#38d838"/>
<rect x="563" y="174" width="1" height="1" fill="#38d838"/>
<rect x="564" y="173" width="1" height="1" fill="#1a7a3a"/>
<rect x="569" y="173" width="1" height="1" fill="#1a7a3a"/>
<rect x="570" y="174" width="1" height="1" fill="#38d838"/>
<rect x="574" y="175" width="1" height="1" fill="#5ad25a"/>
<rect x="575" y="173" width="1" height="1" fill="#1a7a3a"/>
<rect x="576" y="175" width="1" height="1" fill="#5ad25a"/>
<rect x="580" y="175" width="1" height="1" fill="#5ad25a"/>
<rect x="581" y="173" width="1" height="1" fill="#1a7a3a"/>
<rect x="582" y="175" width="1" height="1" fill="#5ad25a"/>
<rect x="583" y="174" width="1" height="1" fill="#38d838"/>
<rect x="584" y="173" width="1" height="1" fill="#1a7a3a"/>
<rect x="586" y="174" width="1" height="1" fill="#38d838"/>
<rect x="587" y="175" width="1" height="1" fill="#5ad25a"/>
<rect x="589" y="173" width="1" height="1" fill="#1a7a3a"/>
<rect x="590" y="173" width="1" height="1" fill="#1a7a3a"/>
<rect x="593" y="173" width="1" height="1" fill="#1a7a3a"/>
<rect x="594" y="175" width="1" height="1" fill="#5ad25a"/>
<rect x="596" y="173" width="1" height="1" fill="#1a7a3a"/>
<rect x="598" y="173" width="1" height="1" fill="#1a7a3a"/>
<rect x="599" y="173" width="1" height="1" fill="#1a7a3a"/>
<rect x="599" y="174" width="1" height="1" fill="#38d838"/>
<rect x="600" y="175" width="1" height="1" fill="#5ad25a"/>
<rect x="601" y="174" width="1" height="1" fill="#38d838"/>
<rect x="606" y="175" width="1" height="1" fill="#5ad25a"/>
<rect x="609" y="175" width="1" height="1" fill="#5ad25a"/>
<rect x="612" y="173" width="1" height="1" fill="#1a7a3a"/>
<rect x="613" y="173" width="1" height="1" fill="#1a7a3a"/>
<rect x="614" y="175" width="1" height="1" fill="#5ad25a"/>
<rect x="616" y="174" width="1" height="1" fill="#38d838"/>
<rect x="618" y="175" width="1" height="1" fill="#5ad25a"/>
<rect x="619" y="173" width="1" height="1" fill="#1a7a3a"/>
<rect x="619" y="175" width="1" height="1" fill="#5ad25a"/>
<rect x="620" y="174" width="1" height="1" fill="#38d838"/>
<rect x="621" y="174" width="1" height="1" fill="#38d838"/>
<rect x="623" y="173" width="1" height="1" fill="#1a7a3a"/>
<rect x="626" y="173" width="1" height="1" fill="#1a7a3a"/>
<rect x="627" y="173" width="1" height="1" fill="#1a7a3a"/>
<rect x="629" y="173" width="1" height="1" fill="#1a7a3a"/>
<rect x="629" y="174" width="1" height="1" fill="#38d838"/>
<rect x="632" y="173" width="1" height="1" fill="#1a7a3a"/>
<rect x="634" y="175" width="1" height="1" fill="#5ad25a"/>
<rect x="635" y="174" width="1" height="1" fill="#38d838"/>
<rect x="637" y="173" width="1" height="1" fill="#1a7a3a"/>
<rect x="637" y="175" width="1" height="1" fill="#5ad25a"/>
<rect x="640" y="175" width="1" height="1" fill="#5ad25a"/>
<rect x="642" y="173" width="1" height="1" fill="#1a7a3a"/>
<rect x="643" y="175" width="1" height="1" fill="#5ad25a"/>
<rect x="644" y="173" width="1" height="1" fill="#1a7a3a"/>
<rect x="645" y="174" width="1" height="1" fill="#38d838"/>
<rect x="646" y="174" width="1" height="1" fill="#38d838"/>
<rect x="649" y="173" width="1" height="1" fill="#1a7a3a"/>
<rect x="659" y="175" width="1" height="1" fill="#5ad25a"/>
<rect x="662" y="174" width="1" height="1" fill="#38d838"/>
<rect x="663" y="173" width="1" height="1" fill="#1a7a3a"/>
<rect x="664" y="173" width="1" height="1" fill="#1a7a3a"/>
<rect x="664" y="175" width="1" height="1" fill="#5ad25a"/>
<rect x="667" y="175" width="1" height="1" fill="#5ad25a"/>
<rect x="668" y="173" width="1" height="1" fill="#1a7a3a"/>
<rect x="672" y="175" width="1" height="1" fill="#5ad25a"/>
<rect x="673" y="173" width="1" height="1" fill="#1a7a3a"/>
<rect x="676" y="175" width="1" height="1" fill="#5ad25a"/>
<rect x="678" y="174" width="1" height="1" fill="#38d838"/>
<rect x="679" y="173" width="1" height="1" fill="#1a7a3a"/>
<rect x="679" y="175" width="1" height="1" fill="#5ad25a"/>
<rect x="681" y="173" width="1" height="1" fill="#1a7a3a"/>
<rect x="682" y="173" width="1" height="1" fill="#1a7a3a"/>
<rect x="684" y="173" width="1" height="1" fill="#1a7a3a"/>
<rect x="686" y="173" width="1" height="1" fill="#1a7a3a"/>
<rect x="688" y="173" width="1" height="1" fill="#1a7a3a"/>
<rect x="688" y="174" width="1" height="1" fill="#38d838"/>
<rect x="691" y="173" width="1" height="1" fill="#1a7a3a"/>
<rect x="694" y="175" width="1" height="1" fill="#5ad25a"/>
<rect x="695" y="175" width="1" height="1" fill="#5ad25a"/>
<rect x="699" y="173" width="1" height="1" fill="#1a7a3a"/>
<rect x="701" y="173" width="1" height="1" fill="#1a7a3a"/>
<rect x="703" y="173" width="1" height="1" fill="#1a7a3a"/>
<rect x="703" y="175" width="1" height="1" fill="#5ad25a"/>
<rect x="704" y="173" width="1" height="1" fill="#1a7a3a"/>
<rect x="705" y="173" width="1" height="1" fill="#1a7a3a"/>
<rect x="715" y="175" width="1" height="1" fill="#5ad25a"/>
<rect x="716" y="173" width="1" height="1" fill="#1a7a3a"/>
<rect x="719" y="173" width="1" height="1" fill="#1a7a3a"/>
<rect x="720" y="173" width="1" height="1" fill="#1a7a3a"/>
<rect x="720" y="175" width="1" height="1" fill="#5ad25a"/>
<rect x="721" y="173" width="1" height="1" fill="#1a7a3a"/>
<rect x="721" y="175" width="1" height="1" fill="#5ad25a"/>
<rect x="723" y="173" width="1" height="1" fill="#1a7a3a"/>
<rect x="724" y="175" width="1" height="1" fill="#5ad25a"/>
<rect x="725" y="173" width="1" height="1" fill="#1a7a3a"/>
<rect x="726" y="175" width="1" height="1" fill="#5ad25a"/>
<rect x="727" y="173" width="1" height="1" fill="#1a7a3a"/>
<rect x="728" y="173" width="1" height="1" fill="#1a7a3a"/>
<rect x="732" y="175" width="1" height="1" fill="#5ad25a"/>
<rect x="733" y="175" width="1" height="1" fill="#5ad25a"/>
<rect x="735" y="175" width="1" height="1" fill="#5ad25a"/>
<rect x="738" y="174" width="1" height="1" fill="#38d838"/>
<rect x="739" y="174" width="1" height="1" fill="#38d838"/>
<rect x="740" y="174" width="1" height="1" fill="#38d838"/>
<rect x="741" y="173" width="1" height="1" fill="#1a7a3a"/>
<rect x="742" y="174" width="1" height="1" fill="#38d838"/>
<rect x="743" y="174" width="1" height="1" fill="#38d838"/>
<rect x="744" y="175" width="1" height="1" fill="#5ad25a"/>
<rect x="747" y="174" width="1" height="1" fill="#38d838"/>
<rect x="749" y="175" width="1" height="1" fill="#5ad25a"/>
<rect x="752" y="174" width="1" height="1" fill="#38d838"/>
<rect x="755" y="173" width="1" height="1" fill="#1a7a3a"/>
<rect x="756" y="174" width="1" height="1" fill="#38d838"/>
<rect x="757" y="173" width="1" height="1" fill="#1a7a3a"/>
<rect x="757" y="175" width="1" height="1" fill="#5ad25a"/>
<rect x="758" y="175" width="1" height="1" fill="#5ad25a"/>
<rect x="759" y="175" width="1" height="1" fill="#5ad25a"/>
<rect x="760" y="175" width="1" height="1" fill="#5ad25a"/>
<rect x="761" y="173" width="1" height="1" fill="#1a7a3a"/>
<rect x="762" y="173" width="1" height="1" fill="#1a7a3a"/>
<rect x="765" y="173" width="1" height="1" fill="#1a7a3a"/>
<rect x="765" y="174" width="1" height="1" fill="#38d838"/>
<rect x="767" y="173" width="1" height="1" fill="#1a7a3a"/>
<rect x="768" y="173" width="1" height="1" fill="#1a7a3a"/>
<rect x="769" y="173" width="1" height="1" fill="#1a7a3a"/>
<rect x="769" y="175" width="1" height="1" fill="#5ad25a"/>
<rect x="771" y="175" width="1" height="1" fill="#5ad25a"/>
<rect x="772" y="175" width="1" height="1" fill="#5ad25a"/>
<rect x="773" y="175" width="1" height="1" fill="#5ad25a"/>
<rect x="774" y="175" width="1" height="1" fill="#5ad25a"/>
<rect x="776" y="173" width="1" height="1" fill="#1a7a3a"/>
<rect x="778" y="174" width="1" height="1" fill="#38d838"/>
<rect x="780" y="174" width="1" height="1" fill="#38d838"/>
<rect x="781" y="173" width="1" height="1" fill="#1a7a3a"/>
<rect x="781" y="174" width="1" height="1" fill="#38d838"/>
<rect x="782" y="173" width="1" height="1" fill="#1a7a3a"/>
<rect x="782" y="175" width="1" height="1" fill="#5ad25a"/>
<rect x="785" y="173" width="1" height="1" fill="#1a7a3a"/>
<rect x="793" y="173" width="1" height="1" fill="#1a7a3a"/>
<rect x="794" y="173" width="1" height="1" fill="#1a7a3a"/>
<rect x="795" y="174" width="1" height="1" fill="#38d838"/>
<rect x="797" y="173" width="1" height="1" fill="#1a7a3a"/>
<rect x="797" y="174" width="1" height="1" fill="#38d838"/>
<rect x="798" y="173" width="1" height="1" fill="#1a7a3a"/>
<rect x="800" y="173" width="1" height="1" fill="#1a7a3a"/>
<rect x="803" y="175" width="1" height="1" fill="#5ad25a"/>
<rect x="806" y="174" width="1" height="1" fill="#38d838"/>
<rect x="812" y="174" width="1" height="1" fill="#38d838"/>
<rect x="813" y="174" width="1" height="1" fill="#38d838"/>
<rect x="816" y="174" width="1" height="1" fill="#38d838"/>
<rect x="817" y="173" width="1" height="1" fill="#1a7a3a"/>
<rect x="820" y="173" width="1" height="1" fill="#1a7a3a"/>
<rect x="820" y="175" width="1" height="1" fill="#5ad25a"/>
<rect x="824" y="173" width="1" height="1" fill="#1a7a3a"/>
<rect x="826" y="173" width="1" height="1" fill="#1a7a3a"/>
<rect x="826" y="175" width="1" height="1" fill="#5ad25a"/>
<rect x="827" y="175" width="1" height="1" fill="#5ad25a"/>
<rect x="830" y="173" width="1" height="1" fill="#1a7a3a"/>
<rect x="834" y="173" width="1" height="1" fill="#1a7a3a"/>
<rect x="836" y="173" width="1" height="1" fill="#1a7a3a"/>
<rect x="838" y="173" width="1" height="1" fill="#1a7a3a"/>
<rect x="838" y="174" width="1" height="1" fill="#38d838"/>
<rect x="839" y="175" width="1" height="1" fill="#5ad25a"/>
<rect x="840" y="173" width="1" height="1" fill="#1a7a3a"/>
<rect x="842" y="173" width="1" height="1" fill="#1a7a3a"/>
<rect x="843" y="173" width="1" height="1" fill="#1a7a3a"/>
<rect x="844" y="174" width="1" height="1" fill="#38d838"/>
<rect x="847" y="173" width="1" height="1" fill="#1a7a3a"/>
<rect x="853" y="173" width="1" height="1" fill="#1a7a3a"/>
<rect x="856" y="173" width="1" height="1" fill="#1a7a3a"/>
<rect x="859" y="175" width="1" height="1" fill="#5ad25a"/>
<rect x="867" y="173" width="1" height="1" fill="#1a7a3a"/>
<rect x="869" y="175" width="1" height="1" fill="#5ad25a"/>
<rect x="870" y="173" width="1" height="1" fill="#1a7a3a"/>
<rect x="870" y="175" width="1" height="1" fill="#5ad25a"/>
<rect x="871" y="175" width="1" height="1" fill="#5ad25a"/>
<rect x="872" y="173" width="1" height="1" fill="#1a7a3a"/>
<rect x="873" y="175" width="1" height="1" fill="#5ad25a"/>
<rect x="875" y="175" width="1" height="1" fill="#5ad25a"/>
<rect x="879" y="173" width="1" height="1" fill="#1a7a3a"/>
<rect x="880" y="175" width="1" height="1" fill="#5ad25a"/>
<rect x="881" y="174" width="1" height="1" fill="#38d838"/>
<rect x="885" y="175" width="1" height="1" fill="#5ad25a"/>
<rect x="888" y="174" width="1" height="1" fill="#38d838"/>
<rect x="889" y="173" width="1" height="1" fill="#1a7a3a"/>
<rect x="893" y="173" width="1" height="1" fill="#1a7a3a"/>
<rect x="894" y="175" width="1" height="1" fill="#5ad25a"/>
<rect x="897" y="174" width="1" height="1" fill="#38d838"/>
<rect x="898" y="174" width="1" height="1" fill="#38d838"/>
<rect x="208" y="64" width="1" height="257" fill="#000"/>
<rect x="209" y="70" width="1" height="1" fill="#000"/><rect x="209" y="75" width="1" height="1" fill="#000"/>
<rect x="209" y="311" width="1" height="1" fill="#000"/><rect x="209" y="315" width="1" height="1" fill="#000"/>
</svg>
<div class="rad" style="left:20px;top:48px"></div>
<div style="left:24px;top:52px;width:4px;height:4px;background:#000;border-radius:1.5px"></div>
<div class="btn" style="left:102px;top:44px;width:45px;height:20px"></div>
<div class="rad" style="left:20px;top:68px"></div>
<div class="btn" style="left:102px;top:64px;width:45px;height:20px"></div>
<div class="rad" style="left:20px;top:88px"></div>
<div class="btn" style="left:102px;top:84px;width:45px;height:20px"></div>
<div class="chk" style="left:20px;top:173px"></div>
<div style="left:23px;top:178px;width:1px;height:3px;background:#000"></div>
<div style="left:24px;top:179px;width:1px;height:3px;background:#000"></div>
<div style="left:25px;top:180px;width:1px;height:3px;background:#000"></div>
<div style="left:26px;top:179px;width:1px;height:3px;background:#000"></div>
<div style="left:27px;top:178px;width:1px;height:3px;background:#000"></div>
<div style="left:28px;top:177px;width:1px;height:3px;background:#000"></div>
<div style="left:29px;top:176px;width:1px;height:3px;background:#000"></div>
<div class="chk" style="left:20px;top:193px"></div>
<div style="left:23px;top:198px;width:1px;height:3px;background:#000"></div>
<div style="left:24px;top:199px;width:1px;height:3px;background:#000"></div>
<div style="left:25px;top:200px;width:1px;height:3px;background:#000"></div>
<div style="left:26px;top:199px;width:1px;height:3px;background:#000"></div>
<div style="left:27px;top:198px;width:1px;height:3px;background:#000"></div>
<div style="left:28px;top:197px;width:1px;height:3px;background:#000"></div>
<div style="left:29px;top:196px;width:1px;height:3px;background:#000"></div>
<div class="chk" style="left:20px;top:213px"></div>
<div style="left:23px;top:218px;width:1px;height:3px;background:#000"></div>
<div style="left:24px;top:219px;width:1px;height:3px;background:#000"></div>
<div style="left:25px;top:220px;width:1px;height:3px;background:#000"></div>
<div style="left:26px;top:219px;width:1px;height:3px;background:#000"></div>
<div style="left:27px;top:218px;width:1px;height:3px;background:#000"></div>
<div style="left:28px;top:217px;width:1px;height:3px;background:#000"></div>
<div style="left:29px;top:216px;width:1px;height:3px;background:#000"></div>
<div class="chk" style="left:20px;top:233px"></div>
<div style="left:23px;top:238px;width:1px;height:3px;background:#000"></div>
<div style="left:24px;top:239px;width:1px;height:3px;background:#000"></div>
<div style="left:25px;top:240px;width:1px;height:3px;background:#000"></div>
<div style="left:26px;top:239px;width:1px;height:3px;background:#000"></div>
<div style="left:27px;top:238px;width:1px;height:3px;background:#000"></div>
<div style="left:28px;top:237px;width:1px;height:3px;background:#000"></div>
<div style="left:29px;top:236px;width:1px;height:3px;background:#000"></div>
<div class="chk" style="left:20px;top:253px"></div>
<div style="left:23px;top:258px;width:1px;height:3px;background:#000"></div>
<div style="left:24px;top:259px;width:1px;height:3px;background:#000"></div>
<div style="left:25px;top:260px;width:1px;height:3px;background:#000"></div>
<div style="left:26px;top:259px;width:1px;height:3px;background:#000"></div>
<div style="left:27px;top:258px;width:1px;height:3px;background:#000"></div>
<div style="left:28px;top:257px;width:1px;height:3px;background:#000"></div>
<div style="left:29px;top:256px;width:1px;height:3px;background:#000"></div>
<div class="btn" style="left:29px;top:282px;width:100px;height:29px"></div>
<div class="rad" style="left:20px;top:383px"></div>
<div style="left:24px;top:387px;width:4px;height:4px;background:#000;border-radius:1.5px"></div>
<div class="rad" style="left:20px;top:403px"></div>
<div class="rad" style="left:20px;top:423px"></div>
<div class="rad" style="left:20px;top:443px"></div>
<div class="rad" style="left:20px;top:463px"></div>
<div class="rad" style="left:20px;top:483px"></div>
<div class="rad" style="left:20px;top:503px"></div>
<div class="btn" style="left:169px;top:382px;width:30px;height:20px"></div>
<div style="left:181px;top:390px;width:7px;height:2px;background:#000"></div>
<div style="left:183px;top:388px;width:2px;height:7px;background:#000"></div>
<div class="btn" style="left:169px;top:442px;width:30px;height:20px"></div>
<div style="left:182px;top:451px;width:4px;height:2px;background:#000"></div>
<div class="btn" style="left:359px;top:382px;width:20px;height:15px"></div>
<div style="left:367px;top:389px;width:4px;height:2px;background:#000"></div>
<div class="btn" style="left:381px;top:382px;width:20px;height:15px"></div>
<div style="left:388px;top:388px;width:7px;height:2px;background:#000"></div>
<div style="left:390px;top:386px;width:2px;height:7px;background:#000"></div>
<div class="btn" style="left:359px;top:407px;width:20px;height:15px"></div>
<div style="left:367px;top:414px;width:4px;height:2px;background:#000"></div>
<div class="btn" style="left:381px;top:407px;width:20px;height:15px"></div>
<div style="left:388px;top:413px;width:7px;height:2px;background:#000"></div>
<div style="left:390px;top:411px;width:2px;height:7px;background:#000"></div>
<div class="btn" style="left:359px;top:432px;width:20px;height:15px"></div>
<div style="left:367px;top:439px;width:4px;height:2px;background:#000"></div>
<div class="btn" style="left:381px;top:432px;width:20px;height:15px"></div>
<div style="left:388px;top:438px;width:7px;height:2px;background:#000"></div>
<div style="left:390px;top:436px;width:2px;height:7px;background:#000"></div>
<div class="btn" style="left:359px;top:457px;width:20px;height:15px"></div>
<div style="left:367px;top:464px;width:4px;height:2px;background:#000"></div>
<div class="btn" style="left:381px;top:457px;width:20px;height:15px"></div>
<div style="left:388px;top:463px;width:7px;height:2px;background:#000"></div>
<div style="left:390px;top:461px;width:2px;height:7px;background:#000"></div>
<div class="btn" style="left:359px;top:482px;width:20px;height:15px"></div>
<div style="left:367px;top:489px;width:4px;height:2px;background:#000"></div>
<div class="btn" style="left:381px;top:482px;width:20px;height:15px"></div>
<div style="left:388px;top:488px;width:7px;height:2px;background:#000"></div>
<div style="left:390px;top:486px;width:2px;height:7px;background:#000"></div>
<div class="btn" style="left:624px;top:382px;width:20px;height:15px"></div>
<div style="left:632px;top:389px;width:4px;height:2px;background:#000"></div>
<div class="btn" style="left:646px;top:382px;width:20px;height:15px"></div>
<div style="left:653px;top:388px;width:7px;height:2px;background:#000"></div>
<div style="left:655px;top:386px;width:2px;height:7px;background:#000"></div>
<div class="btn" style="left:624px;top:407px;width:20px;height:15px"></div>
<div style="left:632px;top:414px;width:4px;height:2px;background:#000"></div>
<div class="btn" style="left:646px;top:407px;width:20px;height:15px"></div>
<div style="left:653px;top:413px;width:7px;height:2px;background:#000"></div>
<div style="left:655px;top:411px;width:2px;height:7px;background:#000"></div>
<div class="btn" style="left:624px;top:432px;width:20px;height:15px"></div>
<div style="left:632px;top:439px;width:4px;height:2px;background:#000"></div>
<div class="btn" style="left:646px;top:432px;width:20px;height:15px"></div>
<div style="left:653px;top:438px;width:7px;height:2px;background:#000"></div>
<div style="left:655px;top:436px;width:2px;height:7px;background:#000"></div>
<div class="btn" style="left:624px;top:457px;width:20px;height:15px"></div>
<div style="left:632px;top:464px;width:4px;height:2px;background:#000"></div>
<div class="btn" style="left:646px;top:457px;width:20px;height:15px"></div>
<div style="left:653px;top:463px;width:7px;height:2px;background:#000"></div>
<div style="left:655px;top:461px;width:2px;height:7px;background:#000"></div>
<div class="btn" style="left:897px;top:382px;width:20px;height:15px"></div>
<div style="left:905px;top:389px;width:4px;height:2px;background:#000"></div>
<div class="btn" style="left:919px;top:382px;width:20px;height:15px"></div>
<div style="left:926px;top:388px;width:7px;height:2px;background:#000"></div>
<div style="left:928px;top:386px;width:2px;height:7px;background:#000"></div>
<div class="btn" style="left:897px;top:407px;width:20px;height:15px"></div>
<div style="left:905px;top:414px;width:4px;height:2px;background:#000"></div>
<div class="btn" style="left:919px;top:407px;width:20px;height:15px"></div>
<div style="left:926px;top:413px;width:7px;height:2px;background:#000"></div>
<div style="left:928px;top:411px;width:2px;height:7px;background:#000"></div>
<div class="btn" style="left:897px;top:432px;width:20px;height:15px"></div>
<div style="left:905px;top:439px;width:4px;height:2px;background:#000"></div>
<div class="btn" style="left:919px;top:432px;width:20px;height:15px"></div>
<div style="left:926px;top:438px;width:7px;height:2px;background:#000"></div>
<div style="left:928px;top:436px;width:2px;height:7px;background:#000"></div>
<div class="btn" style="left:169px;top:530px;width:50px;height:25px"></div>
<div class="btn" style="left:219px;top:530px;width:50px;height:25px"></div>
<div class="btn" style="left:302px;top:530px;width:50px;height:25px"></div>
<div class="btn" style="left:352px;top:530px;width:50px;height:25px"></div>
<div class="t" style="left:38.0px;top:47px;letter-spacing:-0.58px">Motor 1</div>
<div class="t" style="left:38.0px;top:67px;letter-spacing:-0.33px">Motor 2</div>
<div class="t" style="left:38.0px;top:87px;letter-spacing:-0.28px">Motor 3</div>
<div class="t" style="left:19.0px;top:153px;letter-spacing:0.09px">Display:</div>
<div class="t" style="left:39.4px;top:172px;letter-spacing:-0.28px">Target</div>
<div class="t" style="left:38.4px;top:192px;letter-spacing:-0.23px">Feedback</div>
<div class="t" style="left:38.4px;top:212px;letter-spacing:0.80px">PWM</div>
<div class="t" style="left:38.8px;top:232px;letter-spacing:-0.32px">Motor Limits</div>
<div class="t" style="left:38.8px;top:252px;letter-spacing:-0.35px">Input Clipping</div>
<div class="t" style="left:18.7px;top:363px;letter-spacing:-0.28px">Out Mode:</div>
<div class="t" style="left:37.5px;top:382px;letter-spacing:-0.28px">Monitor</div>
<div class="t" style="left:37.5px;top:402px;letter-spacing:-0.30px">Square</div>
<div class="t" style="left:38.5px;top:422px;letter-spacing:-0.16px">Triangle</div>
<div class="t" style="left:37.6px;top:442px;letter-spacing:-0.17px">Sine</div>
<div class="t" style="left:37.6px;top:462px;letter-spacing:-0.28px">Motion</div>
<div class="t" style="left:37.6px;top:482px;letter-spacing:0.14px">Manual</div>
<div class="t" style="left:37.6px;top:502px;letter-spacing:-0.11px">UDP Pass thru</div>
<div class="t" style="left:39.0px;top:523px;letter-spacing:-0.18px">pks/sec = 0</div>
<div class="t" style="left:168.7px;top:403px;letter-spacing:-0.53px">Step</div>
<div class="t" style="left:174.1px;top:423px;letter-spacing:0.00px">1</div>
<div class="t" style="left:273.7px;top:383px;letter-spacing:-0.23px">Fpid / 2</div>
<div class="t" style="left:273.7px;top:408px;letter-spacing:-0.26px">Kp = 500</div>
<div class="t" style="left:273.7px;top:433px;letter-spacing:-0.12px">Ki = 0</div>
<div class="t" style="left:273.7px;top:458px;letter-spacing:-0.36px">Kd = 0</div>
<div class="t" style="left:273.7px;top:483px;letter-spacing:-0.32px">Ks = 1</div>
<div class="t" style="left:493.8px;top:383px;letter-spacing:-0.13px">Fpwm = 20kHz</div>
<div class="t" style="left:493.6px;top:408px;letter-spacing:0.07px">PWMmin = 0</div>
<div class="t" style="left:493.6px;top:433px;letter-spacing:0.15px">PWMmax = 200</div>
<div class="t" style="left:493.6px;top:458px;letter-spacing:0.13px">PWMrev = 210</div>
<div class="t" style="left:495.1px;top:508px;letter-spacing:-0.26px">Tx: [ r 64 5A ]</div>
<div class="t" style="left:494.1px;top:533px;letter-spacing:-0.04px">Rx: [ a 20 0F ]</div>
<div class="t" style="left:494.1px;top:558px;letter-spacing:-0.06px">Calcs/sec = 1998</div>
<div class="t" style="left:758.7px;top:383px;letter-spacing:0.04px">Max Limits = 75</div>
<div class="t" style="left:758.7px;top:408px;letter-spacing:-0.17px">Clip Input = 150</div>
<div class="t" style="left:758.7px;top:433px;letter-spacing:-0.18px">Deadzone = 1</div>
<div class="t" style="left:758.1px;top:483px;letter-spacing:-0.18px">Arduino SMC3 ver 0.60</div>
<div class="t" style="left:759.1px;top:508px;letter-spacing:-0.09px">Windows Utility ver 0.60</div>
<div class="t" style="left:758.1px;top:533px;letter-spacing:-0.09px">UDP Port 20017</div>
<div class="t" style="left:758.1px;top:558px;letter-spacing:-0.40px">Comm Port 9</div>
<div class="t" style="left:201.8px;top:558px;letter-spacing:-0.06px">Settings have been saved</div>
<div class="t" style="left:114.0px;top:46px;letter-spacing:-1.00px">ON</div>
<div class="t" style="left:114.0px;top:66px;letter-spacing:-1.00px">ON</div>
<div class="t" style="left:114.0px;top:86px;letter-spacing:-1.00px">ON</div>
<div class="t" style="left:39.5px;top:289px;letter-spacing:0.00px">Save Image</div>
<div class="t" style="left:176.5px;top:535px;letter-spacing:0.27px">Save</div>
<div class="t" style="left:227.6px;top:535px;letter-spacing:-0.40px">Load</div>
<div class="t" style="left:307.9px;top:535px;letter-spacing:0.10px">-&gt; M2</div>
<div class="t" style="left:358.0px;top:535px;letter-spacing:0.03px">-&gt; M3</div>
</body></html>
